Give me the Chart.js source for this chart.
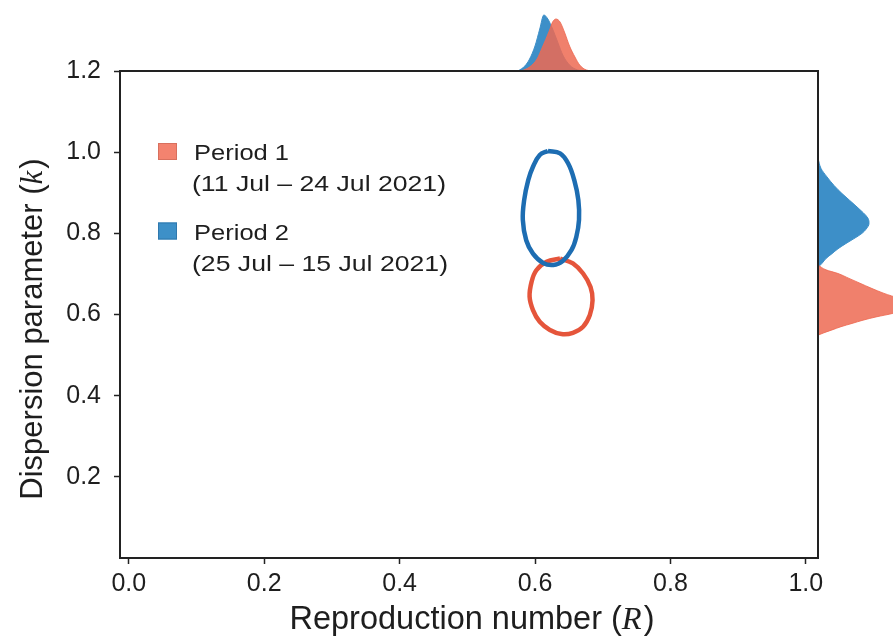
<!DOCTYPE html>
<html>
<head>
<meta charset="utf-8">
<script src="https://cdn.jsdelivr.net/npm/chart.js@4"></script>
<style>
  html, body { margin: 0; padding: 0; background: #ffffff; }
  #wrap { position: relative; width: 893px; height: 636px; overflow: hidden; background: #fff; }
  canvas { position: absolute; }
  #main { left: 0; top: 0; z-index: 3; }
  #top { left: 0; top: 0; z-index: 1; }
  #right { left: 818px; top: 71px; z-index: 1; }
</style>
</head>
<body>
<div id="wrap">
  <canvas id="top" width="893" height="71"></canvas>
  <canvas id="right" width="75" height="487"></canvas>
  <canvas id="main" width="893" height="636"></canvas>
</div>
<script>
// ---- Data ----
const xTicks = [0.0, 0.2, 0.4, 0.6, 0.8, 1.0];
const yTicks = [0.2, 0.4, 0.6, 0.8, 1.0, 1.2];

const seriesNames = ['Period 1', 'Period 2'];
const seriesDates = ['(11 Jul \u2013 24 Jul 2021)', '(25 Jul \u2013 15 Jul 2021)'];

// Axis titles: [text before, math symbol, text after]
const xTitleParts = ['Reproduction number (', 'R', ')'];
const yTitleParts = ['Dispersion parameter (', 'k', ')'];

// Contour of period 2 (blue): reproduction number R, dispersion k
const p2ContourR = [0.619, 0.637, 0.649, 0.658, 0.664, 0.665, 0.661, 0.654, 0.641, 0.627, 0.612, 0.597, 0.587, 0.582, 0.584, 0.590, 0.597, 0.607];
const p2ContourK = [1.003, 0.997, 0.972, 0.931, 0.882, 0.833, 0.791, 0.759, 0.732, 0.722, 0.727, 0.750, 0.783, 0.833, 0.882, 0.931, 0.964, 0.993];

// Contour of period 1 (red)
const p1ContourR = [0.637, 0.656, 0.671, 0.682, 0.685, 0.681, 0.671, 0.656, 0.639, 0.622, 0.607, 0.597, 0.592, 0.595, 0.602, 0.617];
const p1ContourK = [0.738, 0.726, 0.701, 0.668, 0.635, 0.599, 0.570, 0.555, 0.552, 0.562, 0.582, 0.611, 0.644, 0.681, 0.709, 0.730];

// Marginal density of R (top)
const p2DensR_R = [0.575, 0.585, 0.592, 0.600, 0.607, 0.613, 0.619, 0.626, 0.634, 0.641, 0.651, 0.663, 0.675];
const p2DensR_D = [0, 2.5, 6, 12.5, 21, 28, 26, 21, 14, 8, 3, 0.5, 0];
const p1DensR_R = [0.580, 0.592, 0.603, 0.611, 0.621, 0.626, 0.631, 0.637, 0.644, 0.651, 0.659, 0.666, 0.676, 0.688];
const p1DensR_D = [0, 2, 6, 12, 20, 24.5, 26, 24.5, 19, 12.5, 7, 3, 0.5, 0];

// Marginal density of k (right)
const p2DensK_K = [0.985, 0.960, 0.939, 0.918, 0.898, 0.865, 0.837, 0.824, 0.810, 0.800, 0.787, 0.775, 0.762, 0.750, 0.738, 0.726, 0.716];
const p2DensK_D = [0, 1.5, 4.5, 8, 12, 19.5, 25, 25.5, 24, 22, 18, 14, 10, 7, 4, 2, 0];
const p1DensK_K = [0.722, 0.710, 0.701, 0.689, 0.677, 0.665, 0.652, 0.640, 0.628, 0.615, 0.603, 0.594, 0.586, 0.578, 0.570, 0.562, 0.555, 0.549];
const p1DensK_D = [0, 4, 10, 15.5, 21, 26.5, 33, 40, 44, 43, 37.5, 29, 22.5, 17, 11.5, 7, 3, 0];

// ---- Styles ----
const FONT = '"Liberation Sans", Arial, Helvetica, sans-serif';
const MATH_FONT = '"Liberation Serif", "DejaVu Serif", serif';
const TEXT = '#1e1e1e';
const BLUE_LINE = '#1d6db2';
const RED_LINE = '#e5553b';
const BLUE_FILL = 'rgb(61,143,200)';
const RED_FILL = 'rgba(237,106,82,0.85)';
const RED_KEY = '#f3836f';
const BLUE_KEY = '#3d90c8';

const X_MIN = -0.013, X_MAX = 1.018;
const Y_MIN = 0, Y_MAX = 1.2;

function closed(rs, ks) {
  const pts = rs.map((r, i) => ({x: r, y: ks[i]}));
  pts.push({x: rs[0], y: ks[0]});
  return pts;
}
function pairs(xs, ys) { return xs.map((v, i) => ({x: v, y: ys[i]})); }

Chart.defaults.font.family = FONT;
Chart.defaults.color = TEXT;
Chart.defaults.animation = false;

// ---- Legend (inside plot, two-line labels) ----
const legendPlugin = {
  id: 'periodLegend',
  afterDraw(chart) {
    const ctx = chart.ctx;
    const keys = [RED_KEY, BLUE_KEY];
    const borders = ['#d8705e', '#2f78ad'];
    const rows = [{box: 143, t: 159.5, d: 190.5}, {box: 222.5, t: 239.5, d: 270.5}];
    ctx.save();
    for (let i = 0; i < seriesNames.length; i++) {
      const r = rows[i];
      ctx.fillStyle = keys[i];
      ctx.strokeStyle = borders[i];
      ctx.lineWidth = 1;
      ctx.fillRect(158, r.box, 19, 17);
      ctx.strokeRect(158.5, r.box + 0.5, 18, 16);
      ctx.fillStyle = TEXT;
      ctx.font = '22px ' + FONT;
      ctx.textBaseline = 'alphabetic';
      ctx.textAlign = 'left';
      ctx.save(); ctx.translate(194, r.t); ctx.scale(1.16, 1); ctx.fillText(seriesNames[i], 0, 0); ctx.restore();
      ctx.save(); ctx.translate(192, r.d); ctx.scale(1.21, 1); ctx.fillText(seriesDates[i], 0, 0); ctx.restore();
    }
    ctx.restore();
  }
};

// ---- Axis titles with italic math symbol ----
function drawParts(ctx, parts, size) {
  const fonts = [size + 'px ' + FONT, 'italic ' + size + 'px ' + MATH_FONT, size + 'px ' + FONT];
  const widths = parts.map((p, i) => { ctx.font = fonts[i]; return ctx.measureText(p).width; });
  const total = widths.reduce((a, b) => a + b, 0);
  let x = -total / 2;
  parts.forEach((p, i) => {
    ctx.font = fonts[i];
    ctx.fillText(p, x + (i === 2 ? 2 : 0), 0);
    x += widths[i];
  });
}
const titlePlugin = {
  id: 'axisTitles',
  afterDraw(chart) {
    const ctx = chart.ctx;
    ctx.save();
    ctx.fillStyle = TEXT;
    ctx.textAlign = 'left';
    ctx.textBaseline = 'alphabetic';
    ctx.save();
    ctx.translate(471, 628.5);
    drawParts(ctx, xTitleParts, 32.5);
    ctx.restore();
    ctx.save();
    ctx.translate(41.5, 330);
    ctx.rotate(-Math.PI / 2);
    drawParts(ctx, yTitleParts, 31);
    ctx.restore();
    ctx.restore();
  }
};

new Chart(document.getElementById('main'), {
  type: 'scatter',
  data: {
    datasets: [
      { label: seriesNames[1], data: closed(p2ContourR, p2ContourK), showLine: true, borderColor: BLUE_LINE, borderWidth: 4.5, pointRadius: 0, tension: 0.4, fill: false },
      { label: seriesNames[0], data: closed(p1ContourR, p1ContourK), showLine: true, borderColor: RED_LINE, borderWidth: 4.5, pointRadius: 0, tension: 0.4, fill: false }
    ]
  },
  options: {
    responsive: false,
    devicePixelRatio: 1,
    layout: { padding: { top: 71, right: 75, left: 0, bottom: 0 }, autoPadding: false },
    plugins: { legend: { display: false }, tooltip: { enabled: false } },
    scales: {
      x: {
        type: 'linear', position: 'bottom', min: X_MIN, max: X_MAX,
        afterBuildTicks: s => { s.ticks = xTicks.map(v => ({value: v})); },
        afterFit: s => { s.height = 78; },
        ticks: { callback: v => v.toFixed(1), font: { size: 25 }, color: TEXT, padding: 5, maxRotation: 0, autoSkip: false },
        grid: { drawOnChartArea: false, drawTicks: true, tickLength: 6, tickWidth: 1.5, tickColor: '#222' },
        border: { display: true, color: '#222', width: 2 }
      },
      y: {
        type: 'linear', position: 'left', min: Y_MIN, max: Y_MAX,
        afterBuildTicks: s => { s.ticks = yTicks.map(v => ({value: v})); },
        afterFit: s => { s.width = 120; },
        ticks: { callback: v => v.toFixed(1), font: { size: 25 }, color: TEXT, padding: 13, autoSkip: false },
        grid: { drawOnChartArea: false, drawTicks: true, tickLength: 6, tickWidth: 1.5, tickColor: '#222' },
        border: { display: true, color: '#222', width: 2 }
      },
      x2: {
        type: 'linear', axis: 'x', position: 'top', min: X_MIN, max: X_MAX,
        afterFit: s => { s.height = 0; },
        ticks: { display: false },
        grid: { drawOnChartArea: false, drawTicks: false },
        border: { display: true, color: '#222', width: 2 }
      },
      y2: {
        type: 'linear', axis: 'y', position: 'right', min: Y_MIN, max: Y_MAX,
        afterFit: s => { s.width = 0; },
        ticks: { display: false },
        grid: { drawOnChartArea: false, drawTicks: false },
        border: { display: true, color: '#222', width: 2 }
      }
    }
  },
  plugins: [legendPlugin, titlePlugin]
});

// ---- Top marginal (density of R) ----
new Chart(document.getElementById('top'), {
  type: 'line',
  data: {
    datasets: [
      { data: pairs(p1DensR_R, p1DensR_D), borderColor: RED_FILL, backgroundColor: RED_FILL, borderWidth: 1, pointRadius: 0, tension: 0.4, cubicInterpolationMode: 'monotone', fill: 'origin' },
      { data: pairs(p2DensR_R, p2DensR_D), borderColor: BLUE_FILL, backgroundColor: BLUE_FILL, borderWidth: 1, pointRadius: 0, tension: 0.4, cubicInterpolationMode: 'monotone', fill: 'origin' }
    ]
  },
  options: {
    responsive: false, devicePixelRatio: 1,
    layout: { padding: { top: 0, right: 75, left: 120, bottom: 0 }, autoPadding: false },
    plugins: { legend: { display: false }, tooltip: { enabled: false } },
    scales: {
      x: { type: 'linear', min: X_MIN, max: X_MAX, display: false },
      y: { type: 'linear', min: 0, max: 35.5, display: false }
    }
  }
});

// ---- Right marginal (density of k) ----
new Chart(document.getElementById('right'), {
  type: 'line',
  data: {
    datasets: [
      { data: pairs(p1DensK_D, p1DensK_K), borderColor: RED_FILL, backgroundColor: RED_FILL, borderWidth: 1, pointRadius: 0, tension: 0.4, cubicInterpolationMode: 'monotone', fill: 'origin' },
      { data: pairs(p2DensK_D, p2DensK_K), borderColor: BLUE_FILL, backgroundColor: BLUE_FILL, borderWidth: 1, pointRadius: 0, tension: 0.4, cubicInterpolationMode: 'monotone', fill: 'origin' }
    ]
  },
  options: {
    indexAxis: 'y',
    responsive: false, devicePixelRatio: 1,
    layout: { padding: 0, autoPadding: false },
    plugins: { legend: { display: false }, tooltip: { enabled: false } },
    scales: {
      x: { type: 'linear', min: 0, max: 37.5, display: false },
      y: { type: 'linear', min: Y_MIN, max: Y_MAX, display: false }
    }
  }
});
</script>
</body>
</html>
